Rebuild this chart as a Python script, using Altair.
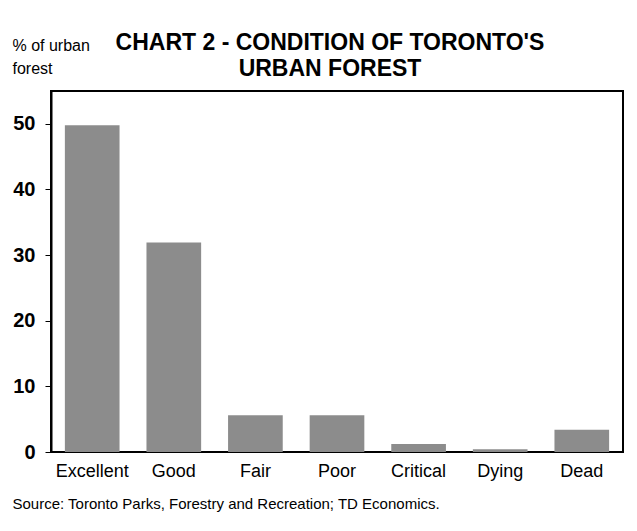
import altair as alt
import pandas as pd

categories = ["Excellent", "Good", "Fair", "Poor", "Critical", "Dying", "Dead"]
values = [49.8, 31.9, 5.6, 5.6, 1.2, 0.4, 3.4]
y_ticks = [0, 10, 20, 30, 40, 50]

df = pd.DataFrame({"condition": categories, "pct": values})

FONT = "Liberation Sans"

chart = (
    alt.Chart(df)
    .mark_bar(color="#8c8c8c")
    .encode(
        x=alt.X(
            "condition:N",
            sort=categories,
            scale=alt.Scale(paddingInner=0.33, paddingOuter=0.17),
            axis=alt.Axis(
                title="Source: Toronto Parks, Forestry and Recreation; TD Economics.",
                titleFont=FONT,
                titleFontSize=15,
                titleFontWeight="normal",
                titleAnchor="start",
                titleAlign="left",
                titleX=-39,
                titleY=44,
                labelAngle=0,
                labelFont=FONT,
                labelFontSize=18,
                labelColor="black",
                labelPadding=10,
                ticks=False,
                domain=False,
            ),
        ),
        y=alt.Y(
            "pct:Q",
            scale=alt.Scale(domain=[0, 55], nice=False),
            axis=alt.Axis(
                values=y_ticks,
                title=["% of urban", "forest"],
                titleFont=FONT,
                titleFontSize=16,
                titleFontWeight="normal",
                titleAngle=0,
                titleAlign="left",
                titleBaseline="top",
                titleX=-39,
                titleY=-54,
                titleLineHeight=23,
                labelFont=FONT,
                labelFontSize=20,
                labelFontWeight="bold",
                labelColor="black",
                labelPadding=10,
                tickColor="black",
                tickSize=6,
                grid=False,
                domainColor="black",
                domainWidth=2,
            ),
        ),
    )
    .properties(
        width=572,
        height=361,
        background="white",
        padding={"left": 43, "top": 83, "right": 6, "bottom": 64},
        autosize=alt.AutoSizeParams(type="none"),
        title=alt.TitleParams(
            text=["CHART 2 - CONDITION OF TORONTO'S", "URBAN FOREST"],
            font=FONT,
            fontSize=23,
            fontWeight="bold",
            color="black",
            anchor="middle",
            frame="group",
            lineHeight=26,
            dx=-7,
            dy=48,
        ),
    )
    .configure_view(stroke="black", strokeWidth=2)
)

chart.save("out.html", embed_options={"renderer": "svg", "actions": False})
